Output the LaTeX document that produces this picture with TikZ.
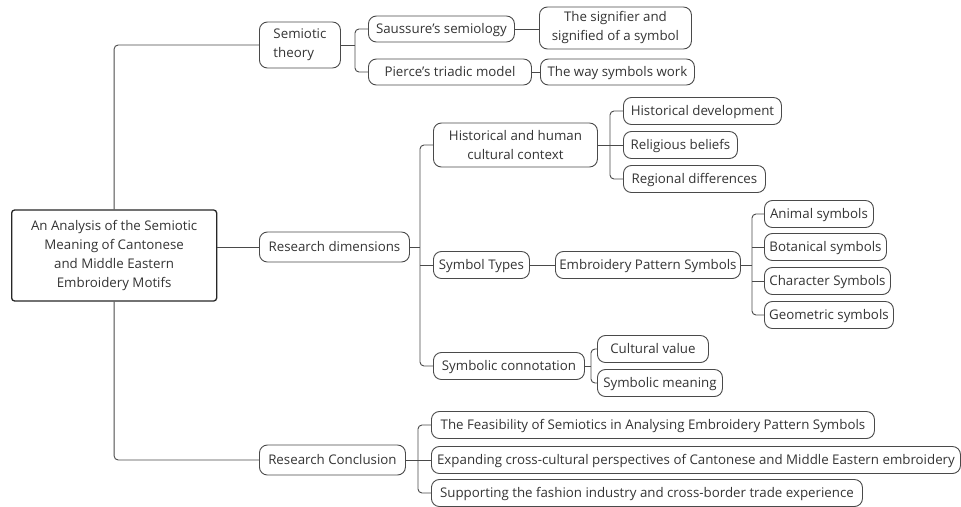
\documentclass[tikz,border=0pt]{standalone}
\usepackage{fontspec}
\setmainfont{Open Sans}
\usetikzlibrary{calc}
\definecolor{lc}{HTML}{4A4A4A}
\definecolor{tc}{HTML}{333333}
\tikzset{
  box/.style={draw=lc, line width=0.9pt, rounded corners=8pt, anchor=west, inner sep=1pt,
    font=\fontsize{13.3}{19}\selectfont, text=tc, align=center},
  sbox/.style={box, text height=9.6pt, text depth=0pt},
  rootbox/.style={draw=black!85, line width=1.3pt, rounded corners=3pt, anchor=west, inner sep=1pt,
    font=\fontsize{13.3}{18.7}\selectfont, text=tc, align=center},
  conn/.style={draw=lc, line width=0.9pt},
  rconn/.style={conn, rounded corners=4pt}
}
\begin{document}
\begin{tikzpicture}[x=1pt,y=-1pt]
\useasboundingbox (0,0) rectangle (961,506);
% root
\node[rootbox, minimum width=205pt, minimum height=91pt] (root) at (11,255.5) {An Analysis of the Semiotic\\Meaning of Cantonese\\and Middle Eastern\\Embroidery Motifs};
% level 1
\node[box, minimum width=81pt, minimum height=46pt, align=left] (sem) at (259,45) {Semiotic\\theory};
\node[sbox, minimum width=150pt, minimum height=30pt] (rd) at (259,247) {Research dimensions};
\node[sbox, minimum width=146pt, minimum height=30pt] (rc) at (259,460) {Research Conclusion};
% semiotic children
\node[sbox, minimum width=146pt, minimum height=26pt] (sau) at (368,29) {Saussure's semiology};
\node[sbox, minimum width=163pt, minimum height=26pt] (pie) at (368,72) {Pierce's triadic model};
\node[box, minimum width=152pt, minimum height=42pt] (sig) at (539,28) {The signifier and\\signified of a symbol};
\node[sbox, minimum width=154pt, minimum height=26pt] (way) at (540,72) {The way symbols work};
% research dimensions children
\node[box, minimum width=164pt, minimum height=44pt] (hist) at (433,145) {Historical and human\\cultural context};
\node[sbox, minimum width=96pt, minimum height=27pt] (st) at (433,265) {Symbol Types};
\node[sbox, minimum width=151pt, minimum height=27pt] (sc) at (433,366) {Symbolic connotation};
% hist children
\node[sbox, minimum width=158pt, minimum height=27pt] (hd) at (623,111) {Historical development};
\node[sbox, minimum width=114pt, minimum height=27pt] (rb) at (623,145) {Religious beliefs};
\node[sbox, minimum width=142pt, minimum height=27pt] (rgd) at (623,179) {Regional differences};
% symbol types
\node[sbox, minimum width=185pt, minimum height=27pt] (eps) at (555,265) {Embroidery Pattern Symbols};
\node[sbox, minimum width=109pt, minimum height=27pt] (an) at (764,214) {Animal symbols};
\node[sbox, minimum width=122pt, minimum height=27pt] (bo) at (764,247) {Botanical symbols};
\node[sbox, minimum width=126pt, minimum height=27pt] (ch) at (764,281) {Character Symbols};
\node[sbox, minimum width=129pt, minimum height=27pt] (ge) at (764,315) {Geometric symbols};
% connotation children
\node[sbox, minimum width=111pt, minimum height=27pt] (cv) at (597,349) {Cultural value};
\node[sbox, minimum width=125pt, minimum height=27pt] (sm) at (597,383) {Symbolic meaning};
% conclusion children
\node[sbox, minimum width=443pt, minimum height=27pt] (c1) at (431,425) {The Feasibility of Semiotics in Analysing Embroidery Pattern Symbols};
\node[sbox, minimum width=529pt, minimum height=27pt] (c2) at (431,460) {Expanding cross-cultural perspectives of Cantonese and Middle Eastern embroidery};
\node[sbox, minimum width=431pt, minimum height=27pt] (c3) at (431,493) {Supporting the fashion industry and cross-border trade experience};
% root connectors
\draw[rconn] (root.north) |- (sem.west);
\draw[rconn] (root.south) |- (rc.west);
\draw[conn] (root.east |- rd.west) -- (rd.west);
% semiotic
\coordinate (b1) at (355,50);
\draw[rconn] (sau.west) -| (b1) |- (pie.west);
\draw[conn] (sem.east) -- (sem.east -| b1);
\draw[conn] (sau.east) -- (sig.west |- sau.east);
\draw[conn] (pie.east) -- (way.west);
% research dimensions
\coordinate (b2) at (420,250);
\draw[rconn] (hist.west) -| (b2) |- (sc.west);
\draw[conn] (rd.east) -- (rd.east -| b2);
\draw[conn] (st.west) -- (st.west -| b2);
% hist
\coordinate (b3) at (610,145);
\draw[rconn] (hd.west) -| (b3) |- (rgd.west);
\draw[conn] (hist.east) -- (rb.west);
% symbol types
\draw[conn] (st.east) -- (eps.west);
\coordinate (b4) at (752,265);
\draw[rconn] (an.west) -| (b4) |- (ge.west);
\draw[conn] (eps.east) -- (eps.east -| b4);
\draw[conn] (bo.west) -- (bo.west -| b4);
\draw[conn] (ch.west) -- (ch.west -| b4);
% connotation
\coordinate (b5) at (591,366);
\draw[rconn] (cv.west) -| (b5) |- (sm.west);
\draw[conn] (sc.east) -- (sc.east -| b5);
% conclusion
\coordinate (b6) at (418,460);
\draw[rconn] (c1.west) -| (b6) |- (c3.west);
\draw[conn] (rc.east) -- (c2.west);
\end{tikzpicture}
\end{document}
